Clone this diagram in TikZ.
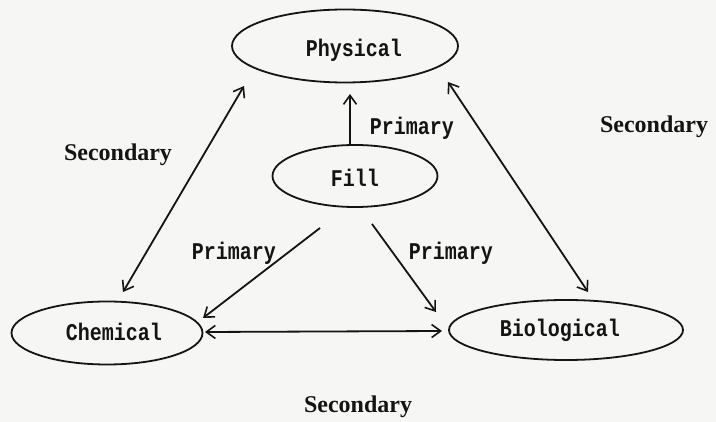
\documentclass[tikz,border=0pt]{standalone}
\usepackage{fontspec}
\usepackage{graphicx}
\setmonofont{Liberation Mono}
\newfontfamily\labfont{Liberation Serif}
\usetikzlibrary{shapes.geometric,arrows.meta}
\definecolor{paper}{RGB}{246,246,244}
\definecolor{ink}{RGB}{20,20,20}
\newcommand{\tallt}[1]{\scalebox{1}[1.2]{#1}}
\begin{document}
\begin{tikzpicture}[x=1pt,y=-1pt,
  blob/.style={draw=ink,line width=1.8pt,ellipse,inner sep=0pt},
  tw/.style={text=ink,font=\ttfamily\bfseries\fontsize{20}{24}\selectfont},
  sec/.style={text=ink,font=\labfont\bfseries\fontsize{24}{28}\selectfont},
  arr/.style={draw=ink,line width=1.8pt,-{Straight Barb[length=9pt,width=13pt,line width=1.6pt]}},
  darr/.style={draw=ink,line width=1.8pt,{Straight Barb[length=9pt,width=13pt,line width=1.6pt]}-{Straight Barb[length=9pt,width=13pt,line width=1.6pt]}}]
\fill[paper] (0,0) rectangle (716,422);
\useasboundingbox (0,0) rectangle (716,422);
% ellipses
\node[blob,minimum width=226pt,minimum height=73pt] (phys) at (345,46) {};
\node[blob,minimum width=165pt,minimum height=62pt] (fill) at (355,176) {};
\node[blob,minimum width=191pt,minimum height=63pt] (chem) at (107,333) {};
\node[blob,minimum width=234pt,minimum height=60pt] (bio) at (566,330) {};
% texts
\node[tw] (tphys) at (354,50) {\tallt{Physical}};
\node[tw] (tfill) at (355,178) {\tallt{Fill}};
\node[tw] (tchem) at (114,332) {\tallt{Chemical}};
\node[tw] (tbio) at (560,330) {\tallt{Biological}};
% arrow end points
\coordinate (fA) at (350,145);
\coordinate (pA) at (350,94);
\coordinate (fB) at (320,228);
\coordinate (cB) at (203,318);
\coordinate (fC) at (372,224);
\coordinate (bC) at (436,312);
\coordinate (cD) at (205,332);
\coordinate (bD) at (442,331);
\coordinate (cE) at (123,292);
\coordinate (pE) at (244,86);
\coordinate (pF) at (448,82);
\coordinate (bF) at (588,292);
% connectors
\draw[arr] (fA) -- (pA);
\draw[arr] (fB) -- (cB);
\draw[arr] (fC) -- (bC);
\draw[darr] (cD) -- (bD);
\draw[darr] (cE) -- (pE);
\draw[darr] (pF) -- (bF);
% labels
\node[tw] (l1) at (412,128) {\tallt{Primary}};
\node[tw] (l2) at (234,253) {\tallt{Primary}};
\node[tw] (l3) at (451,253) {\tallt{Primary}};
\node[sec] (l4) at (118,155) {Secondary};
\node[sec] (l5) at (654,127) {Secondary};
\node[sec] (l6) at (358,407) {Secondary};
\end{tikzpicture}
\end{document}
